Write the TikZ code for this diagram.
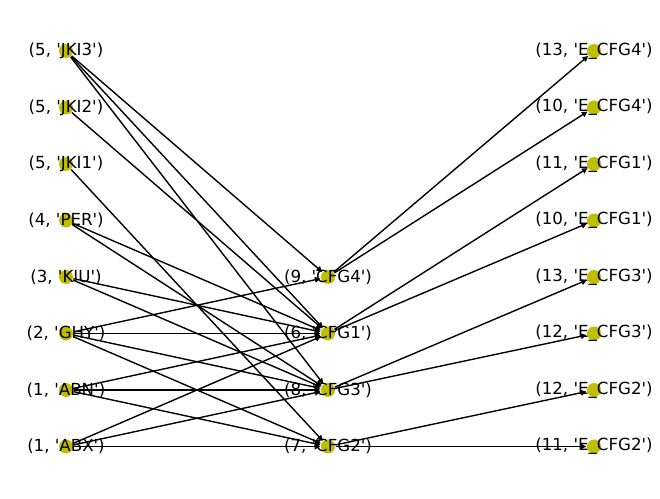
\documentclass[tikz,border=0pt]{standalone}
\usepackage{fontspec}
\setmainfont{DejaVu Sans}
\usetikzlibrary{arrows.meta}
\definecolor{nodeyel}{rgb}{0.75,0.75,0}
\newcommand{\apos}{\textquotesingle}
\tikzset{vtx/.style={circle,fill=nodeyel,minimum size=14bp,inner sep=0pt},
  lbl/.style={inner sep=0pt,font=\fontsize{16.7}{20}\selectfont}}

\begin{document}
\begin{tikzpicture}[>={Triangle[length=5.6bp,width=5.6bp]},x=1bp,y=-1bp,line width=1.39bp]
  \useasboundingbox (0,0) rectangle (660,499);
  \node[vtx] (L1) at (66,51) {};
  \node[vtx] (L2) at (66,107.5) {};
  \node[vtx] (L3) at (66,164) {};
  \node[vtx] (L4) at (66,220.5) {};
  \node[vtx] (L5) at (66,277) {};
  \node[vtx] (L6) at (66,333.5) {};
  \node[vtx] (L7) at (66,390) {};
  \node[vtx] (L8) at (66,446.5) {};
  \node[vtx] (M1) at (328,277) {};
  \node[vtx] (M2) at (328,333.5) {};
  \node[vtx] (M3) at (328,390) {};
  \node[vtx] (M4) at (328,446.5) {};
  \node[vtx] (R1) at (594,51) {};
  \node[vtx] (R2) at (594,107.5) {};
  \node[vtx] (R3) at (594,164) {};
  \node[vtx] (R4) at (594,220.5) {};
  \node[vtx] (R5) at (594,277) {};
  \node[vtx] (R6) at (594,333.5) {};
  \node[vtx] (R7) at (594,390) {};
  \node[vtx] (R8) at (594,446.5) {};

  \draw[->] (L1) -- (M1);
  \draw[->] (L1) -- (M2);
  \draw[->] (L1) -- (M3);
  \draw[->] (L2) -- (M2);
  \draw[->] (L3) -- (M4);
  \draw[->] (L4) -- (M2);
  \draw[->] (L4) -- (M3);
  \draw[->] (L5) -- (M2);
  \draw[->] (L5) -- (M3);
  \draw[->] (L6) -- (M1);
  \draw[->] (L6) -- (M2);
  \draw[->] (L6) -- (M3);
  \draw[->] (L6) -- (M4);
  \draw[->] (L7) -- (M2);
  \draw[->] (L7) -- (M3);
  \draw[->] (L7) -- (M4);
  \draw[->] (L8) -- (M2);
  \draw[->] (L8) -- (M3);
  \draw[->] (L8) -- (M4);
  \draw[->] (M1) -- (R1);
  \draw[->] (M1) -- (R2);
  \draw[->] (M2) -- (R3);
  \draw[->] (M2) -- (R4);
  \draw[->] (M3) -- (R5);
  \draw[->] (M3) -- (R6);
  \draw[->] (M4) -- (R7);
  \draw[->] (M4) -- (R8);

  \node[lbl] (L1t) at (L1) {(5, \apos JKI3\apos)};
  \node[lbl] (L2t) at (L2) {(5, \apos JKI2\apos)};
  \node[lbl] (L3t) at (L3) {(5, \apos JKI1\apos)};
  \node[lbl] (L4t) at (L4) {(4, \apos PER\apos)};
  \node[lbl] (L5t) at (L5) {(3, \apos KIU\apos)};
  \node[lbl] (L6t) at (L6) {(2, \apos GHY\apos)};
  \node[lbl] (L7t) at (L7) {(1, \apos ABN\apos)};
  \node[lbl] (L8t) at (L8) {(1, \apos ABX\apos)};
  \node[lbl] (M1t) at (M1) {(9, \apos CFG4\apos)};
  \node[lbl] (M2t) at (M2) {(6, \apos CFG1\apos)};
  \node[lbl] (M3t) at (M3) {(8, \apos CFG3\apos)};
  \node[lbl] (M4t) at (M4) {(7, \apos CFG2\apos)};
  \node[lbl] (R1t) at (R1) {(13, \apos E\_CFG4\apos)};
  \node[lbl] (R2t) at (R2) {(10, \apos E\_CFG4\apos)};
  \node[lbl] (R3t) at (R3) {(11, \apos E\_CFG1\apos)};
  \node[lbl] (R4t) at (R4) {(10, \apos E\_CFG1\apos)};
  \node[lbl] (R5t) at (R5) {(13, \apos E\_CFG3\apos)};
  \node[lbl] (R6t) at (R6) {(12, \apos E\_CFG3\apos)};
  \node[lbl] (R7t) at (R7) {(12, \apos E\_CFG2\apos)};
  \node[lbl] (R8t) at (R8) {(11, \apos E\_CFG2\apos)};
\end{tikzpicture}
\end{document}
